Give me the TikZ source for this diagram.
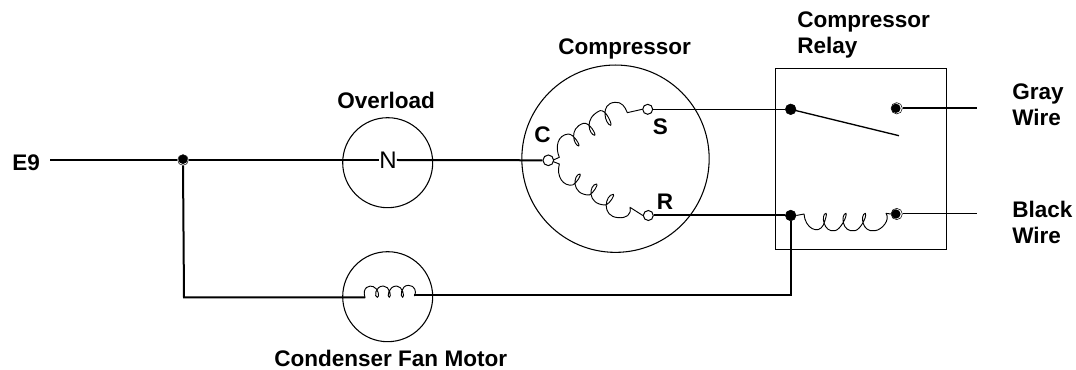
\documentclass[tikz,border=0pt]{standalone}
\usepackage{fontspec}
\setmainfont{Liberation Sans}
\tikzset{
  thin wire/.style={line width=0.75pt},
  thick wire/.style={line width=1.5pt},
  part/.style={draw,circle,line width=0.8pt,inner sep=0pt},
  lbl/.style={font=\bfseries\fontsize{16.9}{19.1}\selectfont,inner sep=0pt,align=left},
  tdot/.style={circle,fill=black,draw=black,inner sep=0pt,minimum size=8pt},
  tring/.style={circle,fill=white,draw=black,line width=0.4pt,inner sep=0pt,minimum size=8.5pt,
    path picture={\fill[black] (path picture bounding box.center) ++(#1) circle (3.5pt);}},
  topen/.style={circle,draw=black,fill=white,line width=0.75pt,inner sep=0pt,minimum size=8pt},
  coil/.style={line width=0.7pt,line join=round}
}
\begin{document}
\begin{tikzpicture}[x=0.75pt,y=-0.75pt]
\useasboundingbox (0,0) rectangle (1076,370);
% parts
\node[part,minimum size=67.5pt] (overload) at (387.7,162.7) {};
\node[part,minimum size=67.5pt] (fan) at (387.7,296.7) {};
\node[part,minimum size=140.5pt] (comp) at (615.5,158.7) {};
\node[draw,line width=0.8pt,minimum width=128.5pt,minimum height=135.75pt,inner sep=0pt] (relay) at (860.8,158.8) {};
% labels
\node[lbl,anchor=base west] (e9) at (12,171) {E9};
\node[lbl,anchor=base west] (olabel) at (337,108.3) {Overload};
\node[lbl,anchor=base west] (clabel) at (558,55) {Compressor};
\node[lbl,anchor=north west] (rlabel) at (797,12) {Compressor\\Relay};
\node[lbl,anchor=north west] (glabel) at (1012,84) {Gray\\Wire};
\node[lbl,anchor=north west] (blabel) at (1012,201) {Black\\Wire};
\node[lbl,anchor=base west] (flabel) at (274,366.7) {Condenser Fan Motor};
\node[lbl] (cc) at (542.5,135) {C};
\node[lbl] (ss) at (660.5,127) {S};
\node[lbl] (rr) at (665,202) {R};
\node[font=\fontsize{18}{20}\selectfont,inner sep=0pt] (N) at (388,160) {N};
% terminals
\coordinate (e9end) at (50,160);
\coordinate (gend) at (977,108.3);
\coordinate (bend) at (977,214);
\coordinate (swend) at (899,135.7);
\coordinate (fanturn) at (184,297.5);
\coordinate (fanin) at (365,297.5);
\coordinate (fanout) at (414,295.5);
\coordinate (relayturn) at (790.7,295.5);
\node[tring={0pt,0.5pt},minimum size=8pt] (j) at (183,160) {};
\node[topen] (tc) at (548.3,160.3) {};
\node[topen,minimum size=7.5pt] (ts) at (647.7,109.3) {};
\node[topen,minimum size=7.5pt] (tr) at (648.3,215.5) {};
\node[tdot] (r1) at (790.7,109.3) {};
\node[tring={-0.6pt,0pt}] (r2) at (896.7,108.3) {};
\node[tdot] (r3) at (790.7,215.5) {};
\node[tring={-0.6pt,0pt}] (r4) at (896.7,214) {};
% wires
\draw[thick wire] (e9end) -- (j.west);
\draw[thick wire] (j.east) -- (N.west);
\draw[thick wire] (N.east) -- (tc.west);
\draw[thick wire] (j.south) -- (fanturn) -- (fanin);
\draw[thick wire] (fanout) -- (relayturn -| r3) -- (r3.south);
\draw[thin wire] (ts.east) -- (r1.west);
\draw[thick wire] (tr.east) -- (r3.west);
\draw[thick wire] (r2.east) -- (gend);
\draw[thin wire] (r4.east) -- (bend);
\draw[line width=1pt] (r1.center) -- (swend);
% compressor coils
\begin{scope}[shift={(500,60)},x=0.25pt,y=-0.25pt]
\draw[coil] (160,300) -- (178,292)
  .. controls (165,262) and (172,225) .. (205,222)
  .. controls (222,222) and (242,258) .. (236,258)
  .. controls (222,256) and (205,205) .. (250,190)
  .. controls (268,185) and (290,225) .. (284,226)
  .. controls (268,224) and (250,175) .. (300,152)
  .. controls (318,147) and (338,195) .. (332,196)
  .. controls (316,194) and (298,130) .. (345,127)
  .. controls (365,125) and (375,140) .. (382,158)
  -- (ts.west);
\draw[coil] (160,305) -- (178,312)
  .. controls (168,350) and (190,380) .. (218,375)
  .. controls (230,370) and (246,342) .. (240,342)
  .. controls (220,342) and (212,405) .. (268,405)
  .. controls (280,400) and (296,372) .. (290,372)
  .. controls (268,372) and (258,435) .. (318,435)
  .. controls (330,430) and (346,403) .. (340,403)
  .. controls (316,403) and (302,470) .. (355,473)
  .. controls (378,475) and (395,465) .. (390,442)
  -- (tr.west);
\end{scope}
% relay coil
\begin{scope}[shift={(760,60)},x=0.25pt,y=-0.25pt]
\draw[coil] (r3.east) -- (132,462)
  .. controls (135,505) and (175,525) .. (190,495)
  .. controls (196,480) and (202,460) .. (198,460)
  .. controls (182,462) and (190,520) .. (225,512)
  .. controls (240,510) and (262,470) .. (258,460)
  .. controls (242,462) and (245,520) .. (285,512)
  .. controls (300,510) and (322,470) .. (316,460)
  .. controls (300,462) and (305,520) .. (345,512)
  .. controls (365,510) and (392,480) .. (378,460)
  -- (r4.west);
\end{scope}
% fan coil
\begin{scope}[shift={(160,100)},x=0.25pt,y=-0.25pt]
\draw[coil] (fanin) -- (615,593)
  .. controls (605,560) and (630,555) .. (640,560)
  .. controls (655,565) and (660,592) .. (652,592)
  .. controls (642,592) and (645,558) .. (670,558)
  .. controls (690,558) and (695,592) .. (688,592)
  .. controls (680,592) and (685,558) .. (710,558)
  .. controls (728,558) and (735,592) .. (728,592)
  .. controls (720,592) and (722,556) .. (745,556)
  .. controls (765,556) and (770,575) .. (764,587)
  -- (fanout);
\end{scope}
\end{tikzpicture}
\end{document}
